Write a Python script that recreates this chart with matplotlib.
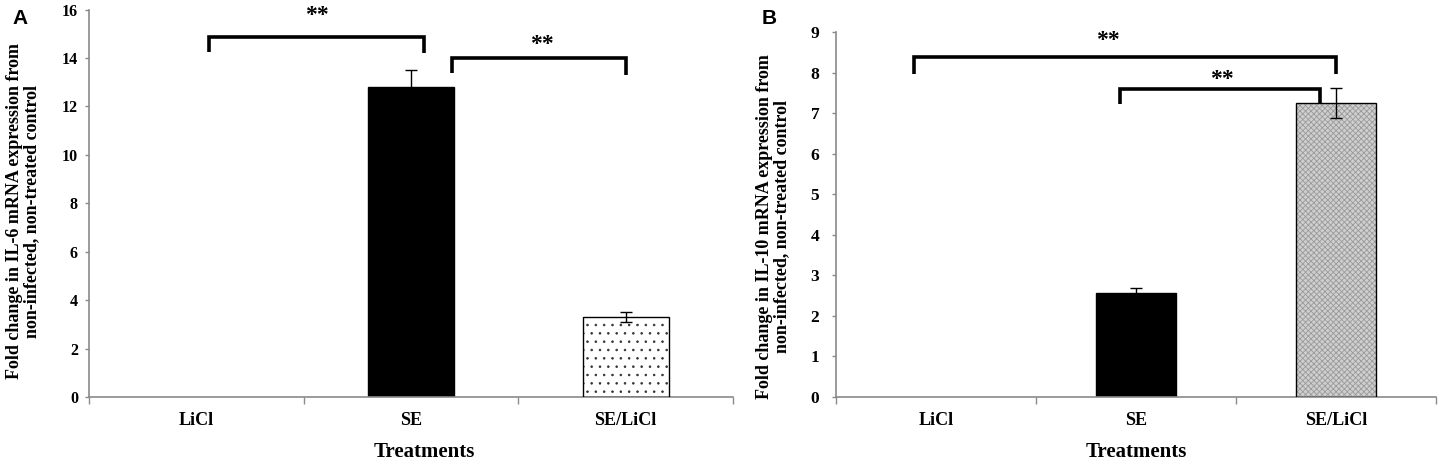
import numpy as np
import matplotlib
matplotlib.use("Agg")
import matplotlib.pyplot as plt

plt.rcParams["font.family"] = "Liberation Serif"
plt.rcParams["font.weight"] = "bold"
plt.rcParams["hatch.linewidth"] = 0.6

# ---------- data ----------
treatments = ["LiCl", "SE", "SE/LiCl"]
il6_mean = [0.0, 12.8, 3.3]
il6_err = [0.0, 0.7, 0.2]
il10_mean = [0.0, 2.57, 7.25]
il10_err = [0.0, 0.13, 0.36]

# brackets: (x_left, x_right, y_top, y_leg_left, y_leg_right), stars: (x, y)
il6_brackets = [(0.06, 1.06, 14.88, 14.25, 14.2), (1.19, 2.0, 14.0, 13.37, 13.3)]
il6_stars = [(0.56, 15.75), (1.61, 14.55)]
il10_brackets = [(-0.11, 2.0, 8.39, 7.96, 7.96), (0.92, 1.92, 7.59, 7.22, 7.24)]
il10_stars = [(0.86, 8.8), (1.43, 7.82)]

fig = plt.figure(figsize=(14.39, 4.61), dpi=100)
axA = fig.add_axes([89 / 1439, 64 / 461, 644 / 1439, 387.5 / 461])
axB = fig.add_axes([836 / 1439, 64 / 461, 600 / 1439, 365 / 461])

spine_col = "#8a8a8a"


def style_axes(ax, ymax, ystep, ysize, ypad):
    for s in ["top", "right"]:
        ax.spines[s].set_visible(False)
    for s in ["left", "bottom"]:
        ax.spines[s].set_color(spine_col)
        ax.spines[s].set_linewidth(1.2)
    ax.set_xlim(-0.5, 2.5)
    ax.set_ylim(0, ymax)
    ax.set_yticks(np.arange(0, ymax + 0.01, ystep))
    ax.set_xticks(range(len(treatments)))
    ax.set_xticklabels(treatments, fontsize=13, fontweight="bold")
    ax.set_xticks([-0.5, 0.5, 1.5, 2.5], minor=True)
    ax.tick_params(axis="x", which="major", length=0, pad=11)
    ax.tick_params(axis="x", which="minor", length=5, color=spine_col, width=1)
    ax.tick_params(axis="y", length=3, color=spine_col, width=1, labelsize=ysize, pad=ypad)
    for lab in ax.get_yticklabels():
        lab.set_fontweight("bold")


def draw_bars(ax, means, errs, cap, hatch_face, hatch_col, hatch):
    x = np.arange(len(means))
    w = 0.4
    # SE bar: solid black
    ax.bar(x[1], means[1], w, color="black", edgecolor="black", zorder=2)
    # SE/LiCl bar: patterned
    ax.bar(x[2], means[2], w, color=hatch_face, edgecolor=hatch_col, hatch=hatch,
           linewidth=0, zorder=2)
    ax.bar(x[2], means[2], w, fill=False, edgecolor="black", linewidth=1.0, zorder=3)
    ax.errorbar(x[1:], means[1:], yerr=errs[1:], fmt="none", ecolor="black",
                elinewidth=1.0, capsize=cap, capthick=1.0, zorder=4)


def draw_brackets(ax, brackets, stars):
    for xl, xr, yt, yl, yr in brackets:
        ax.plot([xl, xl, xr, xr], [yl, yt, yt, yr], color="black", lw=2.6,
                solid_joinstyle="miter", solid_capstyle="butt", zorder=5, clip_on=False)
    for xs, ys in stars:
        ax.text(xs, ys, "**", ha="center", va="center", fontsize=17,
                fontweight="bold", zorder=5)


style_axes(axA, 16, 2, 11.5, 5)
draw_bars(axA, il6_mean, il6_err, 4, "white", "#333333", "..")
draw_brackets(axA, il6_brackets, il6_stars)
axA.set_ylabel("Fold change in IL-6 mRNA expression from\nnon-infected, non-treated control",
               fontsize=13, fontweight="bold", linespacing=1.0)
axA.yaxis.set_label_coords(-0.076, 0.479)
axA.set_xlabel("Treatments", fontsize=15, fontweight="bold")
axA.xaxis.set_label_coords(0.52, -0.116)
fig.text(12 / 1439, 1 - 9 / 461, "A", fontsize=15, fontweight="bold", family="Liberation Sans",
         va="top", ha="left")

style_axes(axB, 9, 1, 12.5, 9)
draw_bars(axB, il10_mean, il10_err, 4, "#cfcfcf", "#9a9a9a", "xxxxxx")
draw_brackets(axB, il10_brackets, il10_stars)
axB.set_ylabel("Fold change in IL-10 mRNA expression from\nnon-infected, non-treated control",
               fontsize=13, fontweight="bold", linespacing=1.0)
axB.yaxis.set_label_coords(-0.077, 0.467)
axB.set_xlabel("Treatments", fontsize=15, fontweight="bold")
axB.xaxis.set_label_coords(0.5, -0.123)
fig.text(762 / 1439, 1 - 9 / 461, "B", fontsize=15, fontweight="bold", family="Liberation Sans",
         va="top", ha="left")

fig.savefig("out.png", dpi=100)
